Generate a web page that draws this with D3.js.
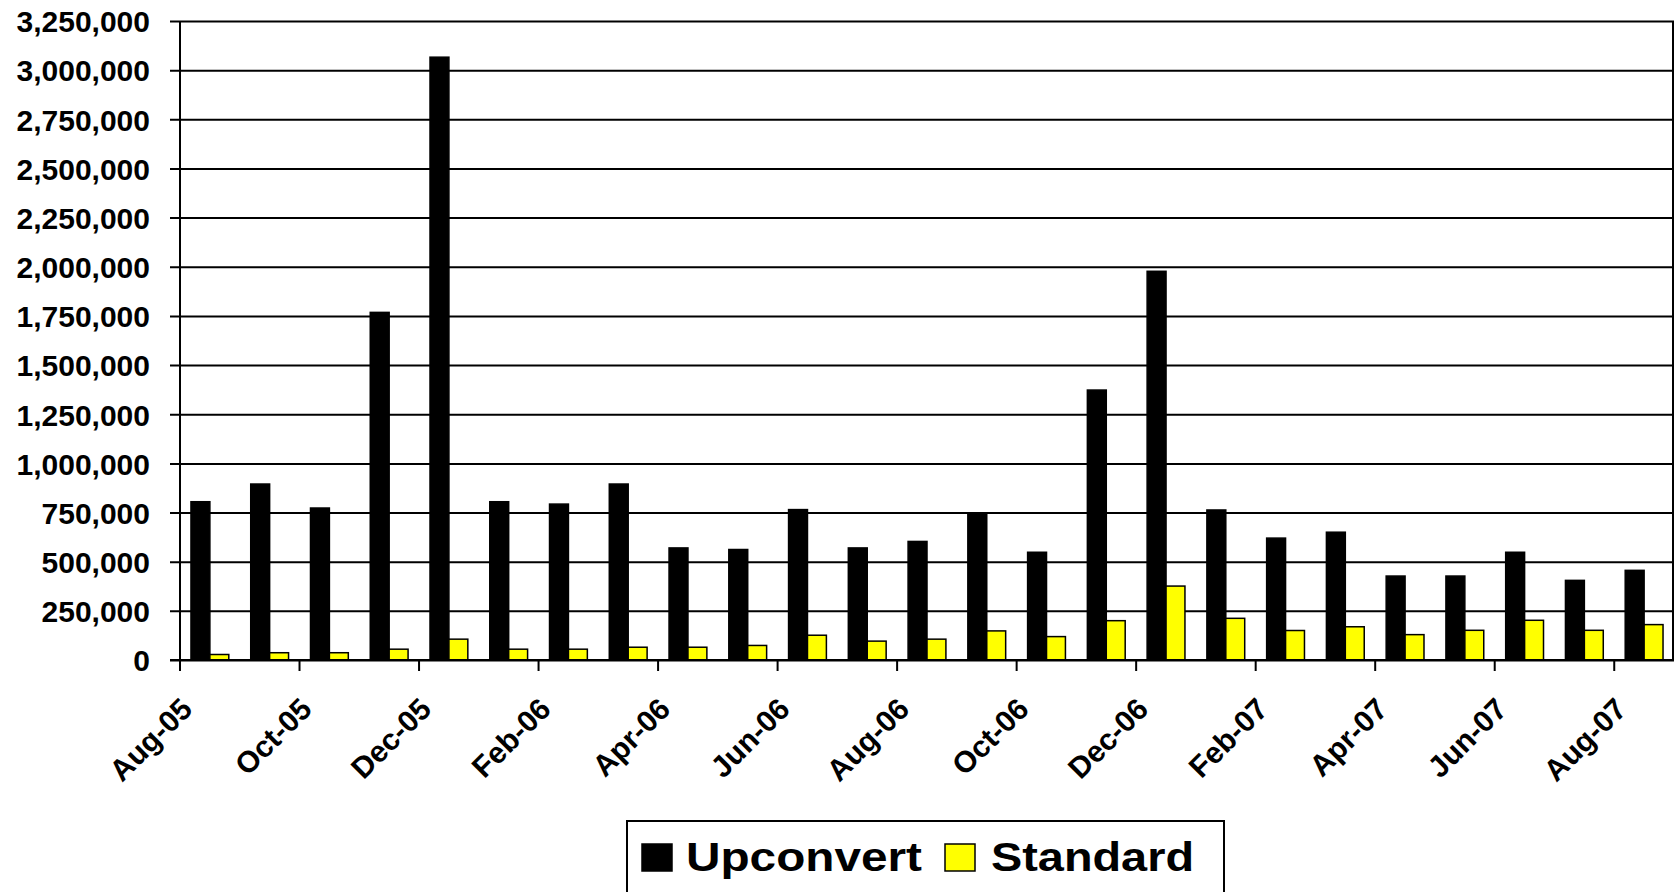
<!DOCTYPE html>
<html>
<head>
<meta charset="utf-8">
<script src="https://cdn.jsdelivr.net/npm/d3@7"></script>
<style>
  html, body { margin: 0; padding: 0; background: #fff; overflow: hidden; }
  text { font-family: "Liberation Sans", Arial, sans-serif; font-weight: bold; fill: #000; }
</style>
</head>
<body>
<main></main>
<script>
var months = ["Aug-05", "Sep-05", "Oct-05", "Nov-05", "Dec-05", "Jan-06", "Feb-06", "Mar-06",
    "Apr-06", "May-06", "Jun-06", "Jul-06", "Aug-06", "Sep-06", "Oct-06", "Nov-06", "Dec-06",
    "Jan-07", "Feb-07", "Mar-07", "Apr-07", "May-07", "Jun-07", "Jul-07", "Aug-07"];
var upconvert = [805000, 895000, 773000, 1768000, 3066000, 805000, 793000, 895000,
    570000, 562000, 765000, 570000, 603000, 746000, 548000, 1373000, 1977000,
    763000, 620000, 650000, 427000, 427000, 548000, 405000, 456000];
var standard = [28000, 37000, 37000, 55000, 106000, 55000, 55000, 65000,
    65000, 74000, 126000, 96000, 106000, 148000, 119000, 200000, 376000,
    212000, 150000, 169000, 129000, 151000, 202000, 151000, 180000];
var seriesNames = ["Upconvert", "Standard"];
var seriesColors = ["#000000", "#ffff00"];
var yTicks = d3.range(0, 3250001, 250000);

var width = 1675, height = 892;
var plotLeft = 180, plotRight = 1674, plotTop = 21, plotBottom = 660;

var svg = d3.select("main")
    .append("svg")
    .attr("width", width)
    .attr("height", height);

var x0 = d3.scaleBand().domain(months).range([plotLeft, plotRight]).paddingInner(0).paddingOuter(0);
var x1 = d3.scaleBand().domain(seriesNames).range([0, x0.bandwidth()]).paddingInner(0).paddingOuter(0.58);
var y = d3.scaleLinear().domain([0, 3250000]).range([plotBottom, plotTop]);

// gridlines + y labels
var yAxis = svg.append("g")
    .attr("transform", "translate(" + plotLeft + ",0)")
    .call(d3.axisLeft(y).tickValues(yTicks).tickSize(-(plotRight - plotLeft)).tickPadding(30).tickFormat(d3.format(",")));
yAxis.select(".domain").remove();
yAxis.selectAll(".tick line")
    .attr("x1", -10)
    .attr("stroke", "#000")
    .attr("stroke-width", 2);
yAxis.selectAll(".tick text")
    .attr("font-size", 30)
    .attr("font-family", "Liberation Sans, Arial, sans-serif")
    .attr("font-weight", "bold")
    .attr("dy", "0.36em");

// bars
var rows = months.map(function (m, i) { return { month: m, values: [upconvert[i], standard[i]] }; });

var groups = svg.append("g").selectAll("g")
    .data(rows)
    .enter()
    .append("g")
    .attr("transform", function (d) { return "translate(" + x0(d.month) + ",0)"; });

groups.selectAll("rect")
    .data(function (d) { return d.values.map(function (v, j) { return { key: seriesNames[j], value: v, j: j }; }); })
    .enter()
    .append("rect")
    .attr("x", function (d) { return x1(d.key); })
    .attr("width", x1.bandwidth())
    .attr("y", function (d) { return y(d.value); })
    .attr("height", function (d) { return plotBottom - y(d.value); })
    .attr("fill", function (d) { return seriesColors[d.j]; })
    .attr("stroke", "#000")
    .attr("stroke-width", 1.5);

// axis lines
svg.append("line").attr("x1", plotLeft).attr("x2", plotLeft).attr("y1", plotTop).attr("y2", plotBottom)
    .attr("stroke", "#000").attr("stroke-width", 2);
svg.append("line").attr("x1", plotRight - 1).attr("x2", plotRight - 1).attr("y1", plotTop).attr("y2", plotBottom)
    .attr("stroke", "#000").attr("stroke-width", 2);

// x axis: ticks every second month
var labelMonths = months.filter(function (m, i) { return i % 2 === 0; });
var xAxis = svg.append("g")
    .attr("transform", "translate(0," + plotBottom + ")");
xAxis.append("line").attr("x1", plotLeft - 10).attr("x2", plotRight).attr("y1", 0).attr("y2", 0)
    .attr("stroke", "#000").attr("stroke-width", 2);
xAxis.selectAll("line.tk")
    .data(labelMonths)
    .enter()
    .append("line")
    .attr("class", "tk")
    .attr("x1", function (d) { return x0(d); })
    .attr("x2", function (d) { return x0(d); })
    .attr("y1", 0)
    .attr("y2", 11)
    .attr("stroke", "#000")
    .attr("stroke-width", 2);
xAxis.selectAll("text")
    .data(labelMonths)
    .enter()
    .append("text")
    .attr("font-size", 30)
    .attr("text-anchor", "end")
    .attr("transform", function (d) { return "translate(" + (x0(d) + 14) + ",51) rotate(-45)"; })
    .text(function (d) { return d; });

// legend
var legend = svg.append("g");
legend.append("rect")
    .attr("x", 627).attr("y", 821)
    .attr("width", 597).attr("height", 90)
    .attr("fill", "#fff").attr("stroke", "#000").attr("stroke-width", 2);
var legendX = [642, 945];
var legendTextX = [686, 991];
var legendTextW = [236, 203];
seriesNames.forEach(function (name, i) {
    legend.append("rect")
        .attr("x", legendX[i]).attr("y", 844)
        .attr("width", 30).attr("height", 27)
        .attr("fill", seriesColors[i])
        .attr("stroke", "#000").attr("stroke-width", 1.5);
    legend.append("text")
        .attr("x", legendTextX[i]).attr("y", 871)
        .attr("font-size", 41)
        .attr("textLength", legendTextW[i])
        .attr("lengthAdjust", "spacingAndGlyphs")
        .text(name);
});
</script>
</body>
</html>
